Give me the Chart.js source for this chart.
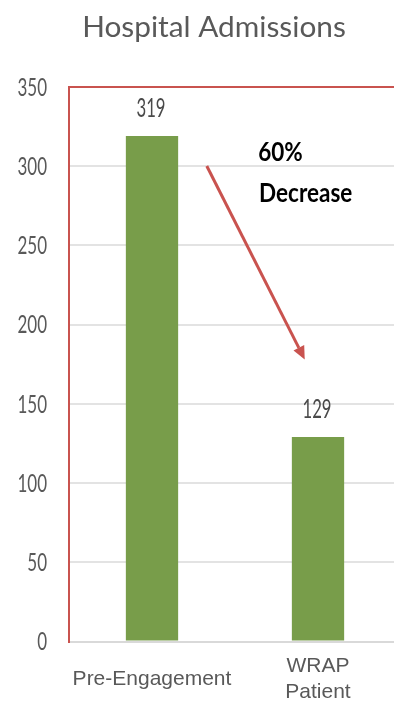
<!DOCTYPE html>
<html><head><meta charset="utf-8">
<script src="https://cdn.jsdelivr.net/npm/chart.js@4/dist/chart.umd.min.js"></script>
<style>
html,body{margin:0;padding:0;background:#fff;overflow:hidden;width:394px;height:702px}
#wrap{position:absolute;left:0;top:0;width:428px;height:742px}
</style>
</head><body><div id="wrap"><canvas id="c" width="428" height="742"></canvas></div>
<script>
// ---- data ----
const chartTitle = 'Hospital Admissions';
const categories = ['Pre-Engagement', ['WRAP', 'Patient']];
const admissions = [319, 129];
const yTickValues = [0, 50, 100, 150, 200, 250, 300, 350];
const noteLines = ['60%', 'Decrease'];

// ---- annotation anchors (data units: category index, value) ----
const arrowFrom = {x: 0.33, y: 300};
const arrowTo = {x: 0.92, y: 178};
const noteAnchors = [{x: 0.64, y: 309}, {x: 0.645, y: 283}];

const RED = '#C9534F';
const GRID = '#E3E3E3';
const GREEN = '#789D4A';

const stretchText = {
  id: 'stretchText',
  afterDatasetsDraw(chart) {
    const {ctx, scales: {x, y}, chartArea} = chart;
    const draw = (txt, px, py, font, color, align, sy) => {
      ctx.save();
      ctx.font = font; ctx.fillStyle = color;
      ctx.textAlign = align; ctx.textBaseline = 'middle';
      ctx.translate(px, py); ctx.scale(1, sy);
      ctx.fillText(txt, 0, 0);
      ctx.restore();
    };
    // y tick labels from the scale
    y.ticks.forEach(t => {
      draw(String(t.value), chartArea.left - 22, y.getPixelForValue(t.value) + 1, '17px Lato', '#595959', 'right', 1.42);
    });
    // value labels above bars
    chart.getDatasetMeta(0).data.forEach((bar, i) => {
      draw(String(admissions[i]), bar.x - 1, bar.y - 28, '16.7px Lato', '#4A4A4A', 'center', 1.62);
    });
    // arrow
    const x1 = x.getPixelForValue(arrowFrom.x), y1 = y.getPixelForValue(arrowFrom.y);
    const x2 = x.getPixelForValue(arrowTo.x), y2 = y.getPixelForValue(arrowTo.y);
    const ang = Math.atan2(y2 - y1, x2 - x1);
    const headLen = 13, headW = 6;
    const bx = x2 - headLen * Math.cos(ang), by = y2 - headLen * Math.sin(ang);
    ctx.save();
    ctx.strokeStyle = RED; ctx.fillStyle = RED; ctx.lineWidth = 3;
    ctx.beginPath(); ctx.moveTo(x1, y1); ctx.lineTo(bx, by); ctx.stroke();
    ctx.beginPath();
    ctx.moveTo(x2, y2);
    ctx.lineTo(bx + headW * Math.sin(ang), by - headW * Math.cos(ang));
    ctx.lineTo(bx - headW * Math.sin(ang), by + headW * Math.cos(ang));
    ctx.closePath(); ctx.fill();
    ctx.restore();
    // note text
    noteLines.forEach((t, i) => {
      draw(t, x.getPixelForValue(noteAnchors[i].x), y.getPixelForValue(noteAnchors[i].y), 'bold 22.5px Lato', '#000000', 'left', 1.22);
    });
  }
};

new Chart(document.getElementById('c'), {
  type: 'bar',
  data: {
    labels: categories,
    datasets: [{
      data: admissions,
      backgroundColor: GREEN,
      barPercentage: 0.315,
      categoryPercentage: 1
    }]
  },
  options: {
    responsive: false,
    animation: false,
    devicePixelRatio: 1,
    layout: {padding: {left: 27, right: 27, top: 0, bottom: 0}},
    plugins: {
      legend: {display: false},
      tooltip: {enabled: false},
      title: {
        display: true,
        text: chartTitle,
        color: '#595959',
        font: {family: 'Lato', size: 29.8, weight: 'normal', lineHeight: 1.2},
        padding: {top: 10, bottom: 41}
      }
    },
    scales: {
      x: {
        grid: {display: false, drawTicks: false},
        border: {display: true, color: '#D9D9D9', width: 2},
        ticks: {
          color: '#595959',
          padding: 25,
          maxRotation: 0,
          autoSkip: false,
          crossAlign: 'center',
          font: {family: '"Liberation Sans", Arial, sans-serif', size: 21, lineHeight: 1.2}
        }
      },
      y: {
        min: 0, max: 350,
        afterBuildTicks: s => { s.ticks = yTickValues.map(v => ({value: v})); },
        afterFit: s => { s.width = 42; },
        ticks: {display: false},
        grid: {
          drawTicks: false,
          color: c => (c.tick && c.tick.value === 350 ? RED : GRID),
          lineWidth: 2
        },
        border: {display: true, color: RED, width: 2}
      }
    }
  },
  plugins: [stretchText]
});
</script>
</body></html>
